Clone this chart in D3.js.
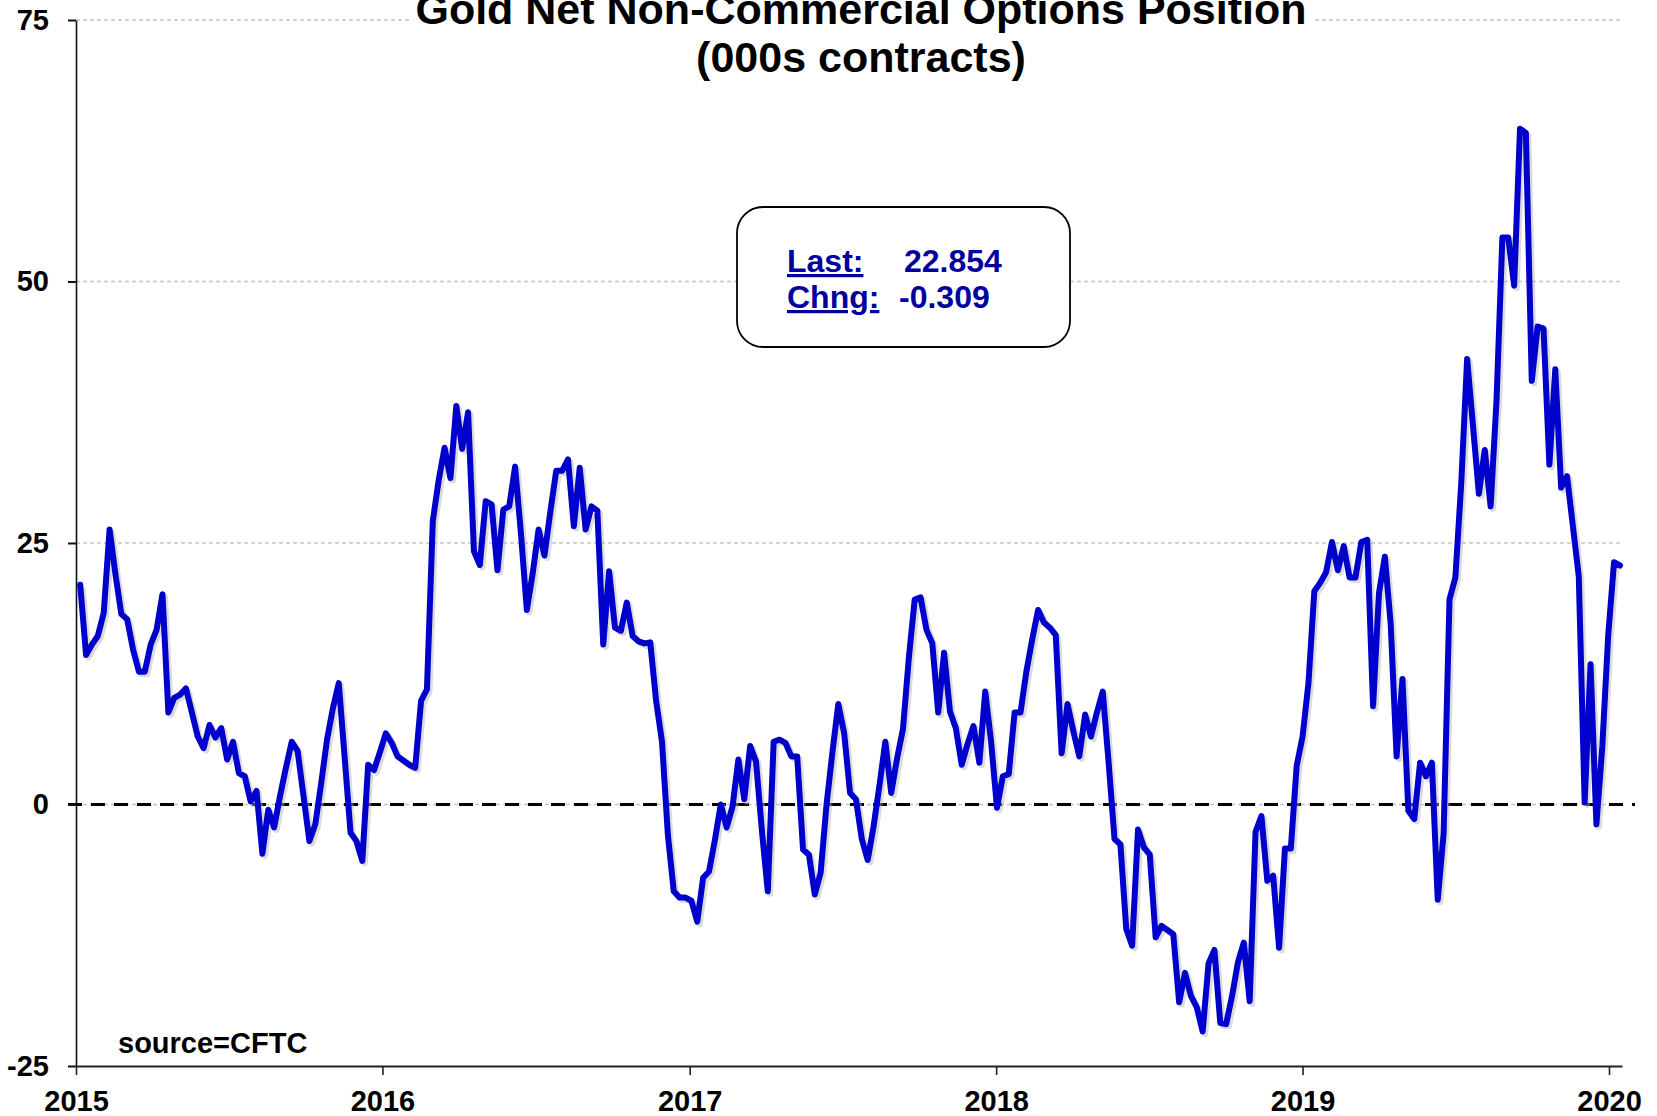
<!DOCTYPE html>
<html>
<head>
<meta charset="utf-8">
<script src="https://cdn.jsdelivr.net/npm/d3@7"></script>
<style>
  html, body { margin: 0; padding: 0; background: #fff; }
  svg { display: block; font-family: 'Liberation Sans', Arial, sans-serif; font-weight: bold; }
</style>
</head>
<body>
<svg id="chart"></svg>
<script>
// weekly net positions (000s contracts), one array per year, first Tuesday of each year
const yearStarts = ['2015-01-06', '2016-01-05', '2017-01-03', '2018-01-02', '2019-01-01', '2020-01-07'];

const pos2015 = [21.0, 14.3, 15.3, 16.1, 18.3, 26.3, 22.0, 18.2, 17.7, 14.8, 12.7, 12.7, 15.3,
  16.7, 20.1, 8.8, 10.2, 10.5, 11.1, 8.8, 6.5, 5.4, 7.6, 6.4, 7.3, 4.3, 6.0, 3.0, 2.7, 0.3, 1.3,
  -4.7, -0.5, -2.2, 0.8, 3.5, 6.0, 5.1, 0.8, -3.5, -1.9, 2.0, 6.2, 9.2, 11.6, 4.5, -2.7, -3.5,
  -5.4, 3.8, 3.3, 5.0];
const pos2016 = [6.8, 5.9, 4.6, 4.2, 3.8, 3.5, 9.9, 11.0, 27.1, 31.0, 34.1, 31.2, 38.1, 34.0,
  37.5, 24.2, 22.9, 29.0, 28.7, 22.4, 28.2, 28.5, 32.3, 25.9, 18.6, 22.1, 26.3, 23.8, 28.0, 31.9,
  31.9, 33.0, 26.6, 32.2, 26.3, 28.5, 28.1, 15.3, 22.3, 16.9, 16.6, 19.3, 16.1, 15.6, 15.4, 15.5,
  9.9, 6.0, -2.9, -8.3, -8.9, -8.9];
const pos2017 = [-9.2, -11.2, -7.0, -6.4, -3.4, 0.0, -2.2, -0.2, 4.3, 0.5, 5.6, 4.1, -2.5, -8.3,
  6.0, 6.2, 5.9, 4.6, 4.6, -4.3, -4.8, -8.6, -6.5, 0.0, 5.0, 9.6, 6.8, 1.1, 0.5, -3.3, -5.3, -2.1,
  1.8, 6.0, 1.1, 4.4, 7.2, 14.0, 19.6, 19.8, 16.7, 15.4, 8.8, 14.5, 8.9, 7.3, 3.8, 5.8, 7.5, 4.0,
  10.8, 6.0];
const pos2018 = [-0.3, 2.7, 2.9, 8.8, 8.8, 12.7, 15.8, 18.6, 17.4, 16.9, 16.2, 4.9, 9.6, 7.0,
  4.6, 8.6, 6.5, 8.8, 10.8, 4.0, -3.3, -3.8, -11.9, -13.5, -2.4, -4.1, -4.8, -12.7, -11.6, -12.0,
  -12.4, -18.9, -16.1, -18.3, -19.4, -21.7, -15.2, -13.9, -20.9, -21.0, -18.3, -15.1, -13.2,
  -18.8, -2.6, -1.1, -7.3, -6.8, -13.7, -4.2, -4.2, 3.7];
const pos2019 = [6.5, 11.6, 20.4, 21.2, 22.2, 25.1, 22.4, 24.7, 21.7, 21.7, 25.1, 25.3, 9.4,
  20.2, 23.7, 17.2, 4.6, 12.0, -0.6, -1.4, 4.0, 2.7, 4.0, -9.1, -2.8, 19.6, 21.7, 30.7, 42.6,
  36.2, 29.7, 33.9, 28.5, 38.6, 54.2, 54.2, 49.6, 64.6, 64.2, 40.5, 45.7, 45.5, 32.5, 41.6, 30.3,
  31.4, 26.6, 21.8, 0.2, 13.4, -1.9, 5.5, 16.1];
const pos2020 = [23.163, 22.854];

const yearSeries = [pos2015, pos2016, pos2017, pos2018, pos2019, pos2020];

const xTickYears = [2015, 2016, 2017, 2018, 2019, 2020];
const yTicks = [-25, 0, 25, 50, 75];
const gridValues = [0, 25, 50, 75];

const titleLines = ['Gold Net Non-Commercial Options Position', '(000s contracts)'];
const lastLabel = 'Last:';
const lastValue = '22.854';
const chngLabel = 'Chng:';
const chngValue = '-0.309';
const sourceText = 'source=CFTC';

// build the weekly table
const parseDay = d3.timeParse('%Y-%m-%d');
const data = [];
yearSeries.forEach((vals, k) => {
  const start = parseDay(yearStarts[k]);
  vals.forEach((v, i) => data.push({ date: d3.timeDay.offset(start, 7 * i), value: v }));
});

const width = 1657;
const height = 1116;
const plotLeft = 76, plotRight = 1622, plotTop = 20, plotBottom = 1066;
const fontFamily = "'Liberation Sans', Arial, sans-serif";

const svg = d3.select('#chart').attr('width', width).attr('height', height);

// x: years 2015 -> 2020 span 76 -> 1609, axis runs on to the last week
const x = d3.scaleTime()
  .domain([new Date(2015, 0, 1), new Date(2020, 0, 1)])
  .range([plotLeft, 1609]);
x.domain([new Date(2015, 0, 1), x.invert(plotRight)]).range([plotLeft, plotRight]);

const y = d3.scaleLinear().domain([-25, 75]).range([plotBottom, plotTop]);

// light dashed gridlines
svg.append('g')
  .selectAll('line')
  .data(gridValues)
  .enter()
  .append('line')
  .attr('x1', plotLeft)
  .attr('x2', plotRight)
  .attr('y1', (d) => y(d))
  .attr('y2', (d) => y(d))
  .attr('stroke', '#c4c4c4')
  .attr('stroke-width', 1.5)
  .attr('stroke-dasharray', '4,3');

// white patch behind the title
svg.append('rect')
  .attr('x', 410)
  .attr('y', 0)
  .attr('width', 904)
  .attr('height', 86)
  .attr('fill', '#fff');

// zero line
svg.append('line')
  .attr('x1', 68)
  .attr('x2', 1635)
  .attr('y1', y(0))
  .attr('y2', y(0))
  .attr('stroke', '#000')
  .attr('stroke-width', 3)
  .attr('stroke-dasharray', '14,9');

const line = d3.line()
  .x((d) => x(d.date))
  .y((d) => y(d.value));

// soft shadow then the series
svg.append('path')
  .datum(data)
  .attr('d', line)
  .attr('transform', 'translate(2.5,2.5)')
  .attr('fill', 'none')
  .attr('stroke', '#b0b0b0')
  .attr('stroke-opacity', 0.45)
  .attr('stroke-width', 6)
  .attr('stroke-linejoin', 'round');

svg.append('path')
  .datum(data)
  .attr('d', line)
  .attr('fill', 'none')
  .attr('stroke', '#0000cc')
  .attr('stroke-width', 6)
  .attr('stroke-linejoin', 'round')
  .attr('stroke-linecap', 'round');

// axes
const yAxis = d3.axisLeft(y)
  .tickValues(yTicks)
  .tickFormat((d) => String(d))
  .tickSize(8)
  .tickSizeOuter(0)
  .tickPadding(19);

const yAxisG = svg.append('g')
  .attr('transform', `translate(${plotLeft},0)`)
  .call(yAxis);
yAxisG.select('.domain').attr('stroke', '#111').attr('stroke-width', 1.6);
yAxisG.selectAll('.tick line').attr('stroke', '#111').attr('stroke-width', 2);
yAxisG.selectAll('text')
  .attr('font-family', fontFamily)
  .attr('font-weight', 'bold')
  .attr('font-size', 29)
  .attr('fill', '#000');

const xAxis = d3.axisBottom(x)
  .tickValues(xTickYears.map((yr) => new Date(yr, 0, 1)))
  .tickFormat(d3.timeFormat('%Y'))
  .tickSize(9)
  .tickSizeOuter(0)
  .tickPadding(15);

const xAxisG = svg.append('g')
  .attr('transform', `translate(0,${plotBottom})`)
  .call(xAxis);
xAxisG.select('.domain').attr('stroke', '#222').attr('stroke-width', 2.2);
xAxisG.selectAll('.tick line').attr('stroke', '#222').attr('stroke-width', 1.6);
xAxisG.selectAll('text')
  .attr('font-family', fontFamily)
  .attr('font-weight', 'bold')
  .attr('font-size', 29)
  .attr('fill', '#000');

// title
svg.append('g')
  .attr('text-anchor', 'middle')
  .selectAll('text')
  .data(titleLines)
  .enter()
  .append('text')
  .attr('x', 861)
  .attr('y', (d, i) => 24 + i * 48)
  .attr('font-size', 43)
  .attr('fill', '#000')
  .text((d) => d);

// last / change box
const box = svg.append('g');
box.append('rect')
  .attr('x', 737)
  .attr('y', 207)
  .attr('width', 333)
  .attr('height', 140)
  .attr('rx', 26)
  .attr('fill', '#fff')
  .attr('stroke', '#000')
  .attr('stroke-width', 1.8);

const boxText = [
  { t: lastLabel, x: 787, y: 272, u: true },
  { t: lastValue, x: 904, y: 272, u: false },
  { t: chngLabel, x: 787, y: 308, u: true },
  { t: chngValue, x: 899, y: 308, u: false }
];
box.selectAll('text')
  .data(boxText)
  .enter()
  .append('text')
  .attr('x', (d) => d.x)
  .attr('y', (d) => d.y)
  .attr('font-size', 32)
  .attr('fill', '#0000a0')
  .attr('text-decoration', (d) => (d.u ? 'underline' : null))
  .text((d) => d.t);

// source note
svg.append('text')
  .attr('x', 118)
  .attr('y', 1053)
  .attr('font-size', 29)
  .attr('fill', '#000')
  .text(sourceText);
</script>
</body>
</html>
